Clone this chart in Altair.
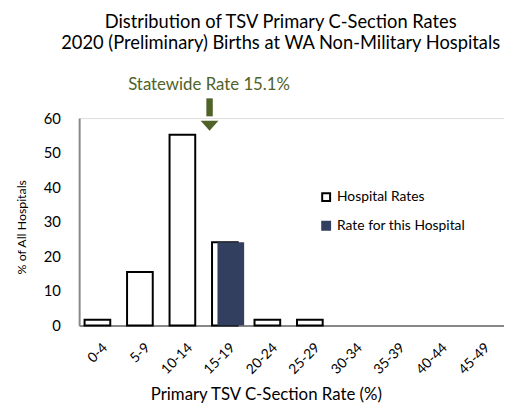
import altair as alt
import pandas as pd

categories = ["0-4", "5-9", "10-14", "15-19", "20-24", "25-29", "30-34", "35-39", "40-44", "45-49"]
hospital_pct = [1.7, 15.5, 55.2, 24.1, 1.7, 1.7, 0, 0, 0, 0]
this_hospital_cat = ["15-19"]
this_hospital_pct = [24.1]
series = ["Hospital Rates", "Rate for this Hospital"]
statewide_label = "Statewide Rate 15.1%"

FONT = "Lato"
DARK = "#333f5f"
GREEN = "#4f6228"

df_all = pd.DataFrame({"cat": categories, "pct": hospital_pct, "series": series[0]})
df_this = pd.DataFrame({"cat": this_hospital_cat, "pct": this_hospital_pct, "series": series[1]})

xaxis = alt.Axis(title="Primary TSV C-Section Rate (%)", labelAngle=-45,
                 labelAlign="right", labelBaseline="middle", labelPadding=20,
                 labelOffset=5, labelOverlap=False,
                 ticks=False, domainColor="#888888", domainWidth=2,
                 labelFont=FONT, labelFontSize=14, labelColor="black",
                 titleFont=FONT, titleFontSize=17, titleFontWeight="normal",
                 titleColor="black", titleX=189, titleY=75,
                 titleAlign="center", titleBaseline="alphabetic")
yaxis = alt.Axis(title="% of All Hospitals", values=[0, 10, 20, 30, 40, 50, 60],
                 grid=False, ticks=False, domainColor="#888888", domainWidth=2,
                 labelOverlap=False,
                 labelFont=FONT, labelFontSize=15, labelColor="black", labelPadding=19,
                 titleFont=FONT, titleFontSize=12.5, titleFontWeight="normal",
                 titleColor="black", titleX=-58, titleY=110,
                 titleAlign="center", titleBaseline="middle")
xscale = alt.Scale(domain=categories)
yscale = alt.Scale(domain=[0, 60])

xenc = alt.X("cat:N", sort=categories, scale=xscale, axis=xaxis)
yenc = alt.Y("pct:Q", scale=yscale, axis=yaxis)

legend_kw = dict(title=None, orient="none", legendX=243, legendY=73,
                 symbolType="square", symbolSize=64, symbolStrokeWidth=2,
                 labelFont=FONT, labelFontSize=14, labelColor="black",
                 rowPadding=13, labelOffset=4)
fill = alt.Fill("series:N", scale=alt.Scale(domain=series, range=["white", DARK]),
                legend=alt.Legend(**legend_kw))
stroke = alt.Stroke("series:N", scale=alt.Scale(domain=series, range=["black", DARK]),
                    legend=alt.Legend(**legend_kw))

bars_all = alt.Chart(df_all).transform_filter("datum.pct > 0").mark_bar(
    width=26, xOffset=-3, strokeWidth=2).encode(x=xenc, y=yenc, fill=fill, stroke=stroke)
bars_this = alt.Chart(df_this).mark_bar(width=27, xOffset=3, strokeWidth=0).encode(
    x=xenc, y=yenc, fill=fill, stroke=stroke)

ann = pd.DataFrame({"cat": this_hospital_cat, "label": [statewide_label]})
txt = alt.Chart(ann).mark_text(font=FONT, fontSize=17, color=GREEN, dx=-19,
                               baseline="alphabetic").encode(
    x=xenc, y=alt.Y(datum=68, scale=yscale, axis=yaxis), text="label:N")
stem = alt.Chart(ann).mark_rule(strokeWidth=6.5, color=GREEN, xOffset=-18.5).encode(
    x=xenc, y=alt.Y(datum=65.7, scale=yscale, axis=yaxis), y2=alt.datum(60.5))
head = alt.Chart(ann).mark_point(shape="M-1,-0.56L1,-0.56L0,0.56Z", size=324, filled=True,
                                 opacity=1, color=GREEN, xOffset=-18.5).encode(
    x=xenc, y=alt.Y(datum=57.8, scale=yscale, axis=yaxis))

chart = alt.layer(bars_all, bars_this, txt, stem, head).properties(
    width=430, height=210,
    autosize=alt.AutoSizeParams(type="none"),
    padding={"left": 72, "top": 109, "right": 0, "bottom": 79},
    title=alt.TitleParams(["Distribution of TSV Primary C-Section Rates",
                           "2020 (Preliminary) Births at WA Non-Military Hospitals"],
                          font=FONT, fontSize=18.5, fontWeight="normal", color="black",
                          lineHeight=22, anchor="middle", dx=-11, offset=24)
).configure_view(stroke=None).configure(background="white")

chart.save("out.html", embed_options={"renderer": "svg", "actions": False})
